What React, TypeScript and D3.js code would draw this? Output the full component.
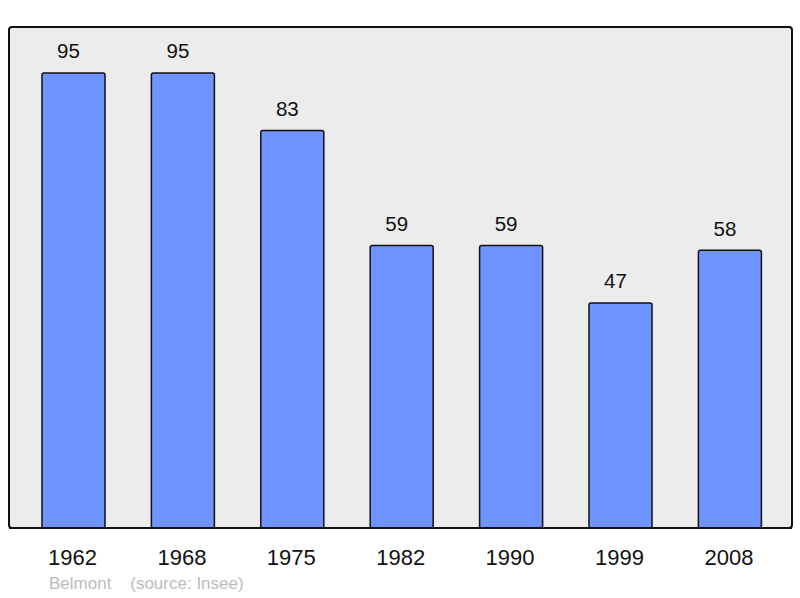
import React from "react";
import * as d3 from "d3";

const years = ["1962", "1968", "1975", "1982", "1990", "1999", "2008"];
const population = [95, 95, 83, 59, 59, 47, 58];
const sourceText = "Belmont    (source: Insee)";

export default function App() {
  const W = 800, H = 598;
  const frame = { x0: 9, y0: 27, x1: 792, y1: 528 };
  const x = d3.scaleBand<string>().domain(years).range([18.8, 784.6]).paddingInner(0.424).paddingOuter(0.212);
  const y = d3.scaleLinear().domain([0, 95]).range([frame.y1, 73]);
  return (
    <svg width={W} height={H} style={{ position: "absolute", left: 0, top: 0, fontFamily: "Liberation Sans, Arial, sans-serif" }}>
      <rect x={frame.x0} y={frame.y0} width={frame.x1 - frame.x0} height={frame.y1 - frame.y0} rx={3} fill="#ececec" stroke="#111" strokeWidth={2} />
      {years.map((yr, i) => {
        const v = population[i];
        const bx = x(yr)!;
        const bw = x.bandwidth();
        return (
          <g key={yr}>
            <rect x={bx} y={y(v)} width={bw} height={frame.y1 - y(v)} rx={2} fill="#7094ff" stroke="#111" strokeWidth={1.5} />
            <text x={bx + bw / 2 - 5} y={y(v) - 14.7} textAnchor="middle" fontSize={20.5} fill="#111">{v}</text>
            <text x={bx + bw / 2 - 1} y={565} textAnchor="middle" fontSize={22} fill="#111">{yr}</text>
          </g>
        );
      })}
      <rect x={frame.x0} y={frame.y1 - 1} width={frame.x1 - frame.x0} height={2} fill="#111" />
      <text x={49} y={588.5} fontSize={17} fill="#bbbbbb" style={{ whiteSpace: "pre" }}>{sourceText}</text>
    </svg>
  );
}
